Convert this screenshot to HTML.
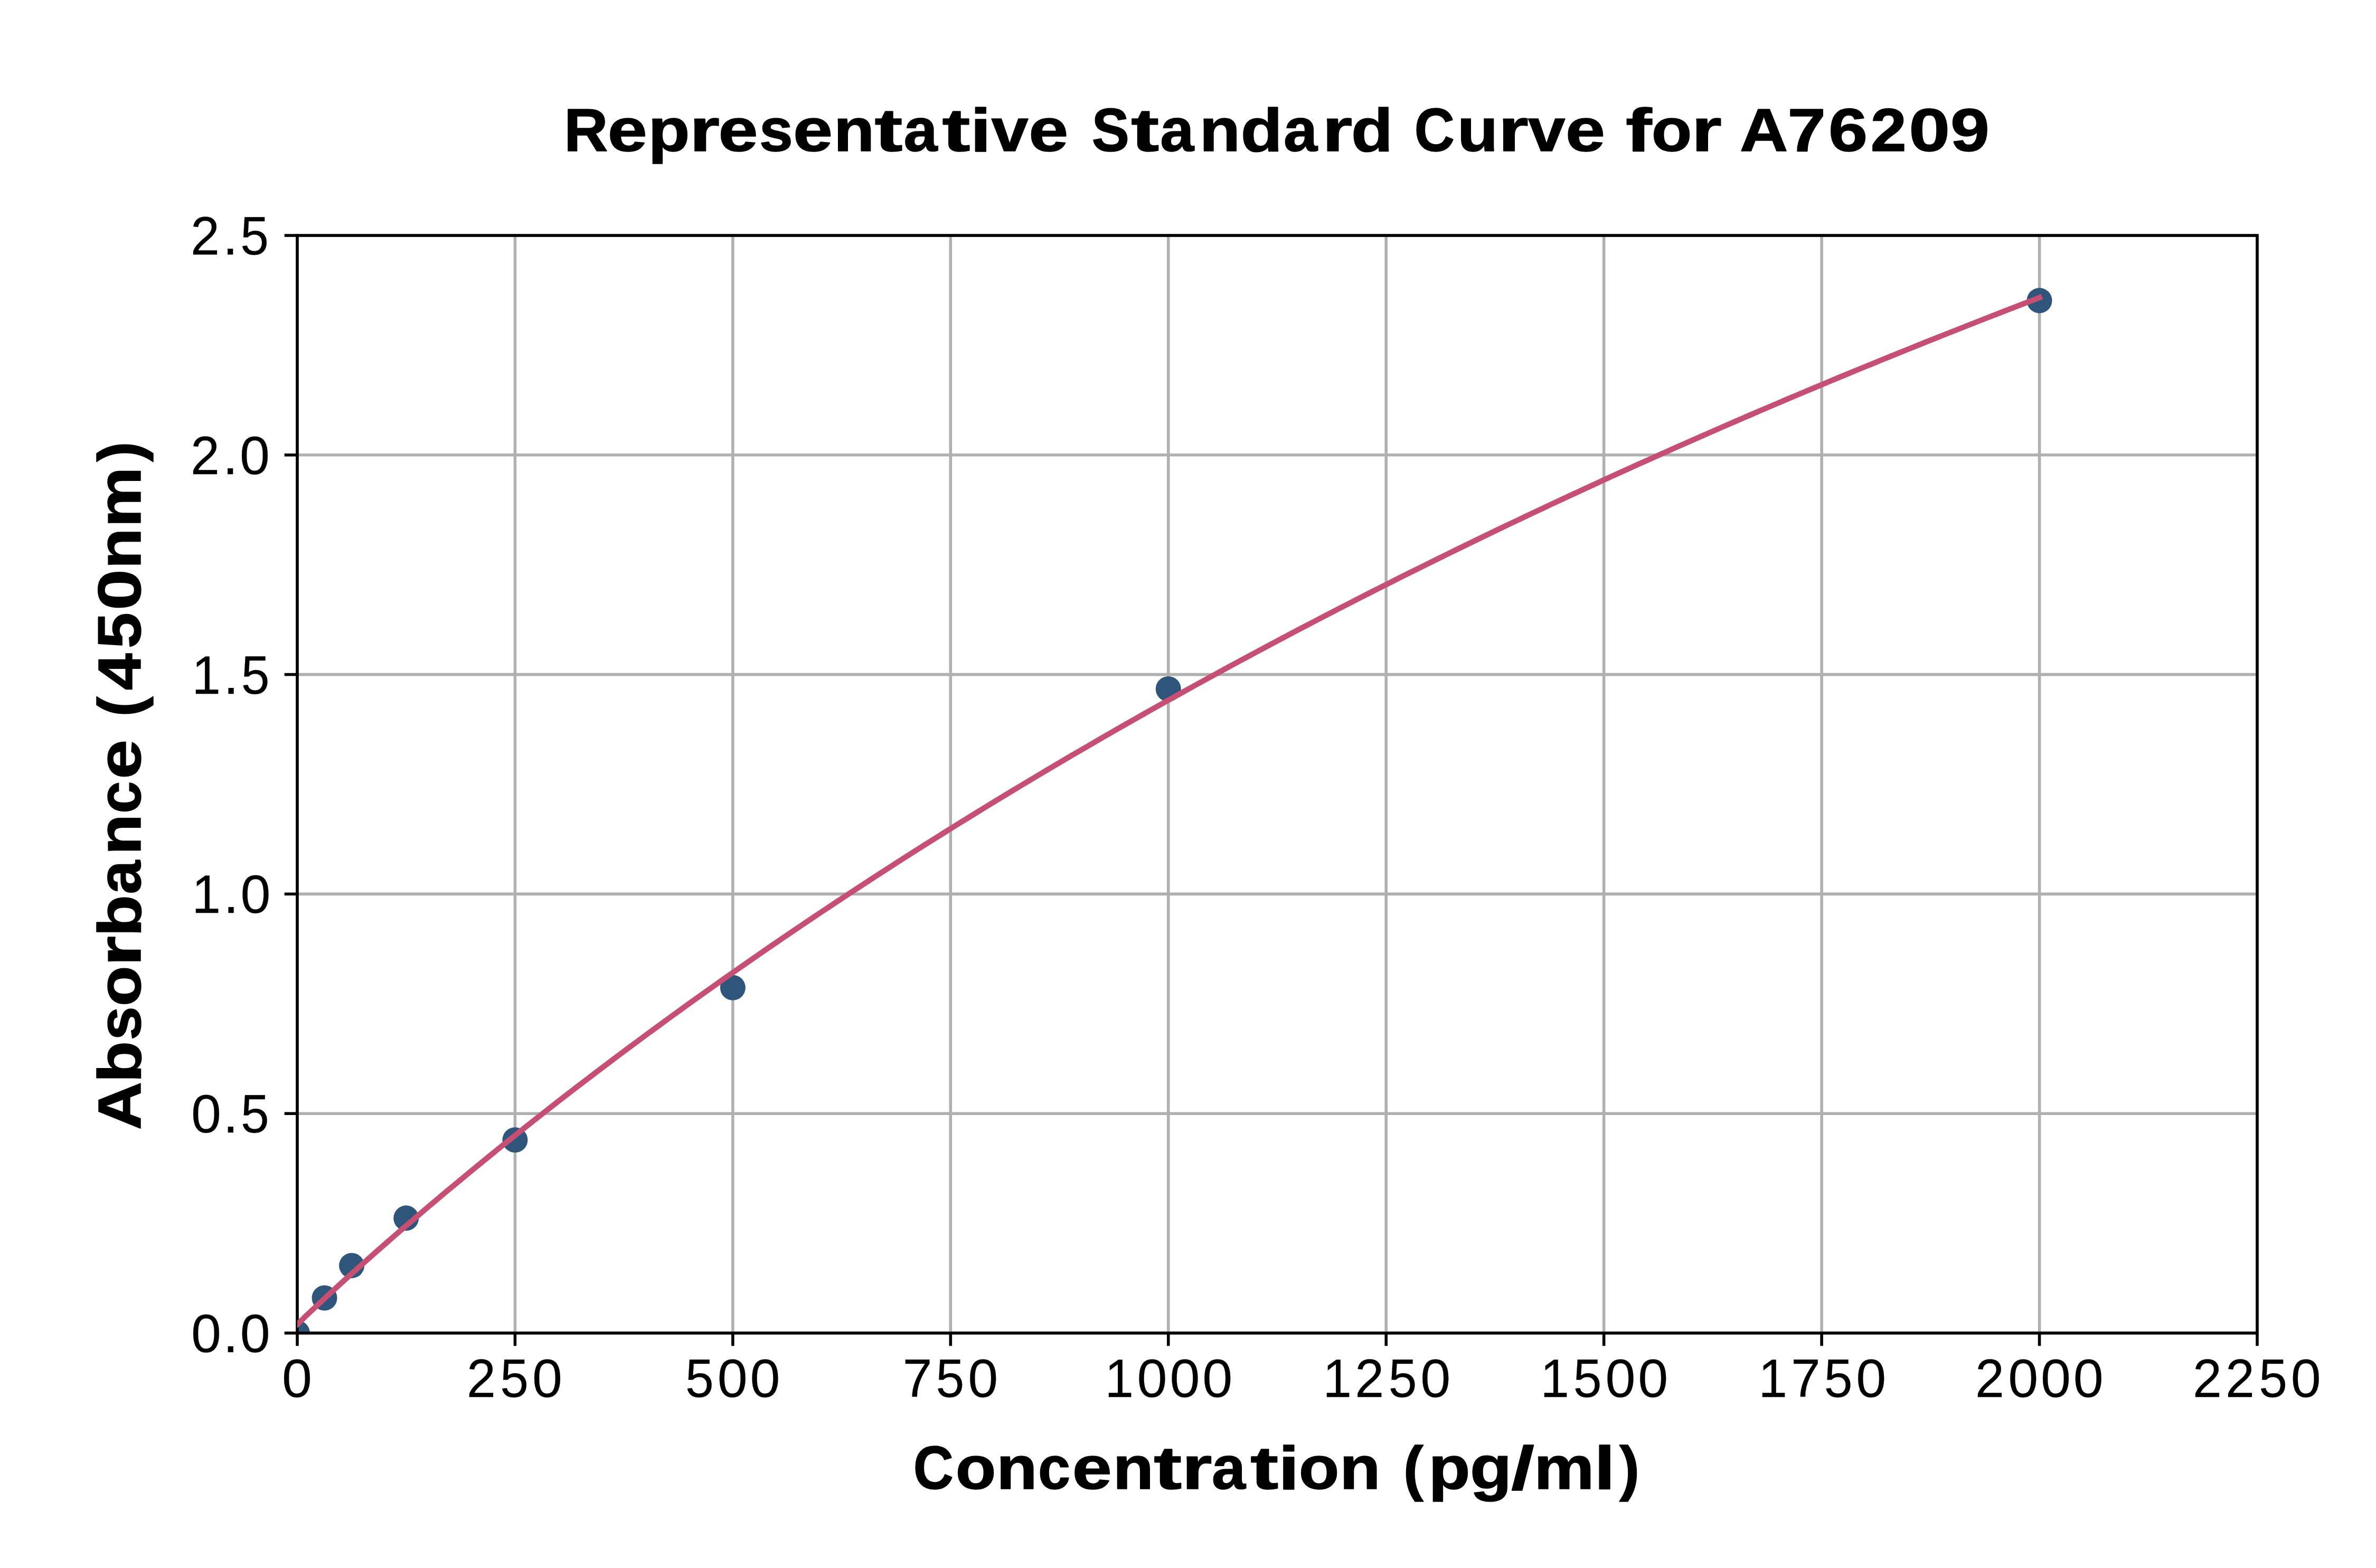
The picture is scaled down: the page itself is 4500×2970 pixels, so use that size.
<!DOCTYPE html>
<html><head><meta charset="utf-8"><title>Representative Standard Curve for A76209</title><style>
html,body{margin:0;padding:0;background:#fff;width:4500px;height:2970px;overflow:hidden}
svg{display:block}
text{font-family:"Liberation Sans",sans-serif;fill:#000;font-kerning:none;white-space:pre}
</style></head><body>
<svg width="4500" height="2970" viewBox="0 0 4500 2970">
<rect x="0" y="0" width="4500" height="2970" fill="#ffffff"/>
<defs><clipPath id="ax"><rect x="563.00" y="446.00" width="3712.00" height="2079.00"/></clipPath></defs>
<line x1="563.00" y1="446.00" x2="563.00" y2="2525.00" stroke="#b0b0b0" stroke-width="5.56"/>
<line x1="975.44" y1="446.00" x2="975.44" y2="2525.00" stroke="#b0b0b0" stroke-width="5.56"/>
<line x1="1387.89" y1="446.00" x2="1387.89" y2="2525.00" stroke="#b0b0b0" stroke-width="5.56"/>
<line x1="1800.33" y1="446.00" x2="1800.33" y2="2525.00" stroke="#b0b0b0" stroke-width="5.56"/>
<line x1="2212.78" y1="446.00" x2="2212.78" y2="2525.00" stroke="#b0b0b0" stroke-width="5.56"/>
<line x1="2625.22" y1="446.00" x2="2625.22" y2="2525.00" stroke="#b0b0b0" stroke-width="5.56"/>
<line x1="3037.67" y1="446.00" x2="3037.67" y2="2525.00" stroke="#b0b0b0" stroke-width="5.56"/>
<line x1="3450.11" y1="446.00" x2="3450.11" y2="2525.00" stroke="#b0b0b0" stroke-width="5.56"/>
<line x1="3862.56" y1="446.00" x2="3862.56" y2="2525.00" stroke="#b0b0b0" stroke-width="5.56"/>
<line x1="4275.00" y1="446.00" x2="4275.00" y2="2525.00" stroke="#b0b0b0" stroke-width="5.56"/>
<line x1="563.00" y1="2525.00" x2="4275.00" y2="2525.00" stroke="#b0b0b0" stroke-width="5.56"/>
<line x1="563.00" y1="2109.20" x2="4275.00" y2="2109.20" stroke="#b0b0b0" stroke-width="5.56"/>
<line x1="563.00" y1="1693.40" x2="4275.00" y2="1693.40" stroke="#b0b0b0" stroke-width="5.56"/>
<line x1="563.00" y1="1277.60" x2="4275.00" y2="1277.60" stroke="#b0b0b0" stroke-width="5.56"/>
<line x1="563.00" y1="861.80" x2="4275.00" y2="861.80" stroke="#b0b0b0" stroke-width="5.56"/>
<line x1="563.00" y1="446.00" x2="4275.00" y2="446.00" stroke="#b0b0b0" stroke-width="5.56"/>
<g clip-path="url(#ax)">
<circle cx="563.00" cy="2525.00" r="24.00" fill="#30557b"/>
<circle cx="614.56" cy="2458.47" r="24.00" fill="#30557b"/>
<circle cx="666.11" cy="2397.18" r="24.00" fill="#30557b"/>
<circle cx="769.22" cy="2307.37" r="24.00" fill="#30557b"/>
<circle cx="975.44" cy="2159.26" r="24.00" fill="#30557b"/>
<circle cx="1387.89" cy="1870.78" r="24.00" fill="#30557b"/>
<circle cx="2212.78" cy="1305.04" r="24.00" fill="#30557b"/>
<circle cx="3862.56" cy="569.33" r="24.00" fill="#30557b"/>
</g>
<rect x="563.00" y="446.00" width="3712.00" height="2079.00" fill="none" stroke="#000" stroke-width="5.56"/>
<path clip-path="url(#ax)" d="M563.0,2508.7 L579.5,2492.6 L596.0,2476.9 L612.5,2461.5 L629.0,2446.2 L645.5,2431.1 L662.0,2416.2 L678.5,2401.3 L695.0,2386.6 L711.5,2372.0 L728.0,2357.5 L744.5,2343.1 L761.0,2328.8 L777.5,2314.6 L794.0,2300.5 L810.5,2286.4 L827.0,2272.5 L843.5,2258.6 L860.0,2244.9 L876.5,2231.2 L893.0,2217.6 L909.5,2204.1 L926.0,2190.6 L942.4,2177.2 L958.9,2163.9 L975.4,2150.7 L991.9,2137.6 L1008.4,2124.5 L1024.9,2111.5 L1041.4,2098.6 L1057.9,2085.7 L1074.4,2072.9 L1090.9,2060.2 L1107.4,2047.6 L1123.9,2035.0 L1140.4,2022.5 L1156.9,2010.0 L1173.4,1997.6 L1189.9,1985.3 L1206.4,1973.1 L1222.9,1960.9 L1239.4,1948.7 L1255.9,1936.7 L1272.4,1924.6 L1288.9,1912.7 L1305.4,1900.8 L1321.9,1889.0 L1338.4,1877.2 L1354.9,1865.5 L1371.4,1853.8 L1387.9,1842.2 L1404.4,1830.7 L1420.9,1819.2 L1437.4,1807.8 L1453.9,1796.4 L1470.4,1785.1 L1486.9,1773.8 L1503.4,1762.6 L1519.9,1751.5 L1536.4,1740.4 L1552.9,1729.3 L1569.4,1718.3 L1585.9,1707.4 L1602.4,1696.5 L1618.9,1685.7 L1635.4,1674.9 L1651.9,1664.1 L1668.4,1653.4 L1684.8,1642.8 L1701.3,1632.2 L1717.8,1621.7 L1734.3,1611.2 L1750.8,1600.7 L1767.3,1590.3 L1783.8,1580.0 L1800.3,1569.7 L1816.8,1559.4 L1833.3,1549.2 L1849.8,1539.0 L1866.3,1528.9 L1882.8,1518.8 L1899.3,1508.8 L1915.8,1498.8 L1932.3,1488.9 L1948.8,1479.0 L1965.3,1469.1 L1981.8,1459.3 L1998.3,1449.5 L2014.8,1439.8 L2031.3,1430.1 L2047.8,1420.5 L2064.3,1410.9 L2080.8,1401.3 L2097.3,1391.8 L2113.8,1382.3 L2130.3,1372.9 L2146.8,1363.5 L2163.3,1354.1 L2179.8,1344.8 L2196.3,1335.5 L2212.8,1326.3 L2229.3,1317.1 L2245.8,1307.9 L2262.3,1298.8 L2278.8,1289.7 L2295.3,1280.7 L2311.8,1271.6 L2328.3,1262.7 L2344.8,1253.7 L2361.3,1244.8 L2377.8,1236.0 L2394.3,1227.2 L2410.8,1218.4 L2427.2,1209.6 L2443.7,1200.9 L2460.2,1192.2 L2476.7,1183.6 L2493.2,1175.0 L2509.7,1166.4 L2526.2,1157.8 L2542.7,1149.3 L2559.2,1140.9 L2575.7,1132.4 L2592.2,1124.0 L2608.7,1115.6 L2625.2,1107.3 L2641.7,1099.0 L2658.2,1090.7 L2674.7,1082.5 L2691.2,1074.3 L2707.7,1066.1 L2724.2,1058.0 L2740.7,1049.9 L2757.2,1041.8 L2773.7,1033.7 L2790.2,1025.7 L2806.7,1017.7 L2823.2,1009.8 L2839.7,1001.8 L2856.2,993.9 L2872.7,986.1 L2889.2,978.3 L2905.7,970.4 L2922.2,962.7 L2938.7,954.9 L2955.2,947.2 L2971.7,939.5 L2988.2,931.9 L3004.7,924.2 L3021.2,916.7 L3037.7,909.1 L3054.2,901.5 L3070.7,894.0 L3087.2,886.5 L3103.7,879.1 L3120.2,871.7 L3136.7,864.3 L3153.2,856.9 L3169.6,849.5 L3186.1,842.2 L3202.6,834.9 L3219.1,827.7 L3235.6,820.4 L3252.1,813.2 L3268.6,806.0 L3285.1,798.9 L3301.6,791.7 L3318.1,784.6 L3334.6,777.5 L3351.1,770.5 L3367.6,763.5 L3384.1,756.4 L3400.6,749.5 L3417.1,742.5 L3433.6,735.6 L3450.1,728.7 L3466.6,721.8 L3483.1,714.9 L3499.6,708.1 L3516.1,701.3 L3532.6,694.5 L3549.1,687.8 L3565.6,681.0 L3582.1,674.3 L3598.6,667.6 L3615.1,661.0 L3631.6,654.3 L3648.1,647.7 L3664.6,641.1 L3681.1,634.5 L3697.6,628.0 L3714.1,621.5 L3730.6,615.0 L3747.1,608.5 L3763.6,602.0 L3780.1,595.6 L3796.6,589.2 L3813.1,582.8 L3829.6,576.4 L3846.1,570.1 L3862.6,563.7" fill="none" stroke="#c65073" stroke-width="10.42" stroke-linecap="square" stroke-linejoin="round"/>
<line x1="563.00" y1="2525.00" x2="563.00" y2="2549.30" stroke="#000" stroke-width="5.56"/>
<line x1="975.44" y1="2525.00" x2="975.44" y2="2549.30" stroke="#000" stroke-width="5.56"/>
<line x1="1387.89" y1="2525.00" x2="1387.89" y2="2549.30" stroke="#000" stroke-width="5.56"/>
<line x1="1800.33" y1="2525.00" x2="1800.33" y2="2549.30" stroke="#000" stroke-width="5.56"/>
<line x1="2212.78" y1="2525.00" x2="2212.78" y2="2549.30" stroke="#000" stroke-width="5.56"/>
<line x1="2625.22" y1="2525.00" x2="2625.22" y2="2549.30" stroke="#000" stroke-width="5.56"/>
<line x1="3037.67" y1="2525.00" x2="3037.67" y2="2549.30" stroke="#000" stroke-width="5.56"/>
<line x1="3450.11" y1="2525.00" x2="3450.11" y2="2549.30" stroke="#000" stroke-width="5.56"/>
<line x1="3862.56" y1="2525.00" x2="3862.56" y2="2549.30" stroke="#000" stroke-width="5.56"/>
<line x1="4275.00" y1="2525.00" x2="4275.00" y2="2549.30" stroke="#000" stroke-width="5.56"/>
<line x1="563.00" y1="2525.00" x2="538.70" y2="2525.00" stroke="#000" stroke-width="5.56"/>
<line x1="563.00" y1="2109.20" x2="538.70" y2="2109.20" stroke="#000" stroke-width="5.56"/>
<line x1="563.00" y1="1693.40" x2="538.70" y2="1693.40" stroke="#000" stroke-width="5.56"/>
<line x1="563.00" y1="1277.60" x2="538.70" y2="1277.60" stroke="#000" stroke-width="5.56"/>
<line x1="563.00" y1="861.80" x2="538.70" y2="861.80" stroke="#000" stroke-width="5.56"/>
<line x1="563.00" y1="446.00" x2="538.70" y2="446.00" stroke="#000" stroke-width="5.56"/>
<text xml:space="preserve" font-size="114.444" font-weight="bold" stroke="#000" stroke-width="1.50" stroke-linejoin="round" transform="translate(1065.800,285.888)" y="0"><tspan x="2.49" textLength="83.20" lengthAdjust="spacingAndGlyphs">R</tspan><tspan x="85.06" textLength="75.10" lengthAdjust="spacingAndGlyphs">e</tspan><tspan x="161.72" textLength="79.05" lengthAdjust="spacingAndGlyphs">p</tspan><tspan x="240.13" textLength="57.01" lengthAdjust="spacingAndGlyphs">r</tspan><tspan x="294.75" textLength="75.10" lengthAdjust="spacingAndGlyphs">e</tspan><tspan x="372.32" textLength="63.87" lengthAdjust="spacingAndGlyphs">s</tspan><tspan x="436.24" textLength="75.10" lengthAdjust="spacingAndGlyphs">e</tspan><tspan x="513.09" textLength="77.27" lengthAdjust="spacingAndGlyphs">n</tspan><tspan x="590.72" textLength="52.98" lengthAdjust="spacingAndGlyphs">t</tspan><tspan x="645.71" textLength="64.11" lengthAdjust="spacingAndGlyphs">a</tspan><tspan x="718.82" textLength="52.98" lengthAdjust="spacingAndGlyphs">t</tspan><tspan x="771.85" textLength="39.33" lengthAdjust="spacingAndGlyphs">i</tspan><tspan x="811.68" textLength="70.17" lengthAdjust="spacingAndGlyphs">v</tspan><tspan x="882.42" textLength="75.10" lengthAdjust="spacingAndGlyphs">e</tspan><tspan x="958.28"> </tspan><tspan x="1001.86" textLength="71.15" lengthAdjust="spacingAndGlyphs">S</tspan><tspan x="1076.51" textLength="52.98" lengthAdjust="spacingAndGlyphs">t</tspan><tspan x="1131.50" textLength="64.11" lengthAdjust="spacingAndGlyphs">a</tspan><tspan x="1206.07" textLength="77.27" lengthAdjust="spacingAndGlyphs">n</tspan><tspan x="1283.86" textLength="79.05" lengthAdjust="spacingAndGlyphs">d</tspan><tspan x="1365.11" textLength="64.11" lengthAdjust="spacingAndGlyphs">a</tspan><tspan x="1438.37" textLength="57.01" lengthAdjust="spacingAndGlyphs">r</tspan><tspan x="1493.17" textLength="79.05" lengthAdjust="spacingAndGlyphs">d</tspan><tspan x="1573.03"> </tspan><tspan x="1612.92" textLength="76.11" lengthAdjust="spacingAndGlyphs">C</tspan><tspan x="1694.09" textLength="77.27" lengthAdjust="spacingAndGlyphs">u</tspan><tspan x="1772.03" textLength="57.01" lengthAdjust="spacingAndGlyphs">r</tspan><tspan x="1828.34" textLength="70.17" lengthAdjust="spacingAndGlyphs">v</tspan><tspan x="1899.08" textLength="75.10" lengthAdjust="spacingAndGlyphs">e</tspan><tspan x="1974.93"> </tspan><tspan x="2013.20" textLength="49.45" lengthAdjust="spacingAndGlyphs">f</tspan><tspan x="2061.83" textLength="76.58" lengthAdjust="spacingAndGlyphs">o</tspan><tspan x="2137.97" textLength="57.01" lengthAdjust="spacingAndGlyphs">r</tspan><tspan x="2193.09"> </tspan><tspan x="2229.16" textLength="91.40" lengthAdjust="spacingAndGlyphs">A</tspan><tspan x="2319.61" textLength="72.34" lengthAdjust="spacingAndGlyphs">7</tspan><tspan x="2397.08" textLength="74.15" lengthAdjust="spacingAndGlyphs">6</tspan><tspan x="2476.94" textLength="68.00" lengthAdjust="spacingAndGlyphs">2</tspan><tspan x="2549.47" textLength="77.97" lengthAdjust="spacingAndGlyphs">0</tspan><tspan x="2628.15" textLength="74.00" lengthAdjust="spacingAndGlyphs">9</tspan></text>
<text xml:space="preserve" font-size="102.083" stroke="#000" stroke-width="0.25" stroke-linejoin="round" transform="translate(359.591,2560.623)" y="0"><tspan x="2.41" textLength="57.00" lengthAdjust="spacingAndGlyphs">0</tspan><tspan x="62.65" textLength="29.23" lengthAdjust="spacingAndGlyphs">.</tspan><tspan x="95.17" textLength="57.00" lengthAdjust="spacingAndGlyphs">0</tspan></text>
<text xml:space="preserve" font-size="102.083" stroke="#000" stroke-width="0.25" stroke-linejoin="round" transform="translate(359.591,2144.623)" y="0"><tspan x="2.41" textLength="57.00" lengthAdjust="spacingAndGlyphs">0</tspan><tspan x="62.65" textLength="29.23" lengthAdjust="spacingAndGlyphs">.</tspan><tspan x="96.39" textLength="53.79" lengthAdjust="spacingAndGlyphs">5</tspan></text>
<text xml:space="preserve" font-size="102.083" stroke="#000" stroke-width="0.25" stroke-linejoin="round" transform="translate(360.319,1728.623)" y="0"><tspan x="3.23" textLength="54.44" lengthAdjust="spacingAndGlyphs">1</tspan><tspan x="62.65" textLength="29.23" lengthAdjust="spacingAndGlyphs">.</tspan><tspan x="95.17" textLength="57.00" lengthAdjust="spacingAndGlyphs">0</tspan></text>
<text xml:space="preserve" font-size="102.083" stroke="#000" stroke-width="0.25" stroke-linejoin="round" transform="translate(360.319,1313.623)" y="0"><tspan x="3.23" textLength="54.44" lengthAdjust="spacingAndGlyphs">1</tspan><tspan x="62.65" textLength="29.23" lengthAdjust="spacingAndGlyphs">.</tspan><tspan x="96.39" textLength="53.79" lengthAdjust="spacingAndGlyphs">5</tspan></text>
<text xml:space="preserve" font-size="102.083" stroke="#000" stroke-width="0.25" stroke-linejoin="round" transform="translate(358.879,897.623)" y="0"><tspan x="2.15" textLength="54.94" lengthAdjust="spacingAndGlyphs">2</tspan><tspan x="62.65" textLength="29.23" lengthAdjust="spacingAndGlyphs">.</tspan><tspan x="95.17" textLength="57.00" lengthAdjust="spacingAndGlyphs">0</tspan></text>
<text xml:space="preserve" font-size="102.083" stroke="#000" stroke-width="0.25" stroke-linejoin="round" transform="translate(358.879,481.623)" y="0"><tspan x="2.15" textLength="54.94" lengthAdjust="spacingAndGlyphs">2</tspan><tspan x="62.65" textLength="29.23" lengthAdjust="spacingAndGlyphs">.</tspan><tspan x="96.39" textLength="53.79" lengthAdjust="spacingAndGlyphs">5</tspan></text>
<text xml:space="preserve" font-size="102.083" stroke="#000" stroke-width="0.25" stroke-linejoin="round" transform="translate(531.591,2645.623)" y="0"><tspan x="2.41" textLength="57.00" lengthAdjust="spacingAndGlyphs">0</tspan></text>
<text xml:space="preserve" font-size="102.083" stroke="#000" stroke-width="0.25" stroke-linejoin="round" transform="translate(881.879,2645.623)" y="0"><tspan x="2.15" textLength="54.94" lengthAdjust="spacingAndGlyphs">2</tspan><tspan x="65.48" textLength="53.79" lengthAdjust="spacingAndGlyphs">5</tspan><tspan x="126.12" textLength="57.00" lengthAdjust="spacingAndGlyphs">0</tspan></text>
<text xml:space="preserve" font-size="102.083" stroke="#000" stroke-width="0.25" stroke-linejoin="round" transform="translate(1294.499,2645.623)" y="0"><tspan x="3.63" textLength="53.79" lengthAdjust="spacingAndGlyphs">5</tspan><tspan x="64.26" textLength="57.00" lengthAdjust="spacingAndGlyphs">0</tspan><tspan x="126.12" textLength="57.00" lengthAdjust="spacingAndGlyphs">0</tspan></text>
<text xml:space="preserve" font-size="102.083" stroke="#000" stroke-width="0.25" stroke-linejoin="round" transform="translate(1707.025,2645.623)" y="0"><tspan x="2.84" textLength="55.75" lengthAdjust="spacingAndGlyphs">7</tspan><tspan x="65.48" textLength="53.79" lengthAdjust="spacingAndGlyphs">5</tspan><tspan x="126.12" textLength="57.00" lengthAdjust="spacingAndGlyphs">0</tspan></text>
<text xml:space="preserve" font-size="102.083" stroke="#000" stroke-width="0.25" stroke-linejoin="round" transform="translate(2089.319,2645.623)" y="0"><tspan x="3.23" textLength="54.44" lengthAdjust="spacingAndGlyphs">1</tspan><tspan x="64.26" textLength="57.00" lengthAdjust="spacingAndGlyphs">0</tspan><tspan x="126.12" textLength="57.00" lengthAdjust="spacingAndGlyphs">0</tspan><tspan x="187.97" textLength="57.00" lengthAdjust="spacingAndGlyphs">0</tspan></text>
<text xml:space="preserve" font-size="102.083" stroke="#000" stroke-width="0.25" stroke-linejoin="round" transform="translate(2502.319,2645.623)" y="0"><tspan x="3.23" textLength="54.44" lengthAdjust="spacingAndGlyphs">1</tspan><tspan x="64.01" textLength="54.94" lengthAdjust="spacingAndGlyphs">2</tspan><tspan x="127.34" textLength="53.79" lengthAdjust="spacingAndGlyphs">5</tspan><tspan x="187.97" textLength="57.00" lengthAdjust="spacingAndGlyphs">0</tspan></text>
<text xml:space="preserve" font-size="102.083" stroke="#000" stroke-width="0.25" stroke-linejoin="round" transform="translate(2914.319,2645.623)" y="0"><tspan x="3.23" textLength="54.44" lengthAdjust="spacingAndGlyphs">1</tspan><tspan x="65.48" textLength="53.79" lengthAdjust="spacingAndGlyphs">5</tspan><tspan x="126.12" textLength="57.00" lengthAdjust="spacingAndGlyphs">0</tspan><tspan x="187.97" textLength="57.00" lengthAdjust="spacingAndGlyphs">0</tspan></text>
<text xml:space="preserve" font-size="102.083" stroke="#000" stroke-width="0.25" stroke-linejoin="round" transform="translate(3327.319,2645.623)" y="0"><tspan x="3.23" textLength="54.44" lengthAdjust="spacingAndGlyphs">1</tspan><tspan x="64.69" textLength="55.75" lengthAdjust="spacingAndGlyphs">7</tspan><tspan x="127.34" textLength="53.79" lengthAdjust="spacingAndGlyphs">5</tspan><tspan x="187.97" textLength="57.00" lengthAdjust="spacingAndGlyphs">0</tspan></text>
<text xml:space="preserve" font-size="102.083" stroke="#000" stroke-width="0.25" stroke-linejoin="round" transform="translate(3738.879,2645.623)" y="0"><tspan x="2.15" textLength="54.94" lengthAdjust="spacingAndGlyphs">2</tspan><tspan x="64.26" textLength="57.00" lengthAdjust="spacingAndGlyphs">0</tspan><tspan x="126.12" textLength="57.00" lengthAdjust="spacingAndGlyphs">0</tspan><tspan x="187.97" textLength="57.00" lengthAdjust="spacingAndGlyphs">0</tspan></text>
<text xml:space="preserve" font-size="102.083" stroke="#000" stroke-width="0.25" stroke-linejoin="round" transform="translate(4150.879,2645.623)" y="0"><tspan x="2.15" textLength="54.94" lengthAdjust="spacingAndGlyphs">2</tspan><tspan x="64.01" textLength="54.94" lengthAdjust="spacingAndGlyphs">2</tspan><tspan x="127.34" textLength="53.79" lengthAdjust="spacingAndGlyphs">5</tspan><tspan x="187.97" textLength="57.00" lengthAdjust="spacingAndGlyphs">0</tspan></text>
<text xml:space="preserve" font-size="114.444" font-weight="bold" stroke="#000" stroke-width="1.50" stroke-linejoin="round" transform="translate(1728.466,2820.020)" y="0"><tspan x="1.21" textLength="76.11" lengthAdjust="spacingAndGlyphs">C</tspan><tspan x="81.42" textLength="76.58" lengthAdjust="spacingAndGlyphs">o</tspan><tspan x="158.87" textLength="77.27" lengthAdjust="spacingAndGlyphs">n</tspan><tspan x="237.46" textLength="61.18" lengthAdjust="spacingAndGlyphs">c</tspan><tspan x="302.34" textLength="75.10" lengthAdjust="spacingAndGlyphs">e</tspan><tspan x="379.19" textLength="77.27" lengthAdjust="spacingAndGlyphs">n</tspan><tspan x="456.83" textLength="52.98" lengthAdjust="spacingAndGlyphs">t</tspan><tspan x="510.09" textLength="57.01" lengthAdjust="spacingAndGlyphs">r</tspan><tspan x="566.61" textLength="64.11" lengthAdjust="spacingAndGlyphs">a</tspan><tspan x="639.71" textLength="52.98" lengthAdjust="spacingAndGlyphs">t</tspan><tspan x="692.75" textLength="39.33" lengthAdjust="spacingAndGlyphs">i</tspan><tspan x="731.27" textLength="76.58" lengthAdjust="spacingAndGlyphs">o</tspan><tspan x="808.72" textLength="77.27" lengthAdjust="spacingAndGlyphs">n</tspan><tspan x="886.83"> </tspan><tspan x="929.35" textLength="38.15" lengthAdjust="spacingAndGlyphs">(</tspan><tspan x="977.09" textLength="79.05" lengthAdjust="spacingAndGlyphs">p</tspan><tspan x="1055.50" textLength="79.20" lengthAdjust="spacingAndGlyphs">g</tspan><tspan x="1133.83" textLength="43.65" lengthAdjust="spacingAndGlyphs">/</tspan><tspan x="1176.70" textLength="114.19" lengthAdjust="spacingAndGlyphs">m</tspan><tspan x="1291.17" textLength="39.33" lengthAdjust="spacingAndGlyphs">l</tspan><tspan x="1338.59" textLength="38.15" lengthAdjust="spacingAndGlyphs">)</tspan></text>
<text xml:space="preserve" font-size="114.444" font-weight="bold" stroke="#000" stroke-width="1.50" stroke-linejoin="round" transform="translate(266.352,2137.543) rotate(-90)" y="0"><tspan x="-2.61" textLength="91.40" lengthAdjust="spacingAndGlyphs">A</tspan><tspan x="86.79" textLength="79.05" lengthAdjust="spacingAndGlyphs">b</tspan><tspan x="167.24" textLength="63.87" lengthAdjust="spacingAndGlyphs">s</tspan><tspan x="231.54" textLength="76.58" lengthAdjust="spacingAndGlyphs">o</tspan><tspan x="307.67" textLength="57.01" lengthAdjust="spacingAndGlyphs">r</tspan><tspan x="363.59" textLength="79.05" lengthAdjust="spacingAndGlyphs">b</tspan><tspan x="443.73" textLength="64.11" lengthAdjust="spacingAndGlyphs">a</tspan><tspan x="518.30" textLength="77.27" lengthAdjust="spacingAndGlyphs">n</tspan><tspan x="596.89" textLength="61.18" lengthAdjust="spacingAndGlyphs">c</tspan><tspan x="661.77" textLength="75.10" lengthAdjust="spacingAndGlyphs">e</tspan><tspan x="737.63"> </tspan><tspan x="780.16" textLength="38.15" lengthAdjust="spacingAndGlyphs">(</tspan><tspan x="830.19" textLength="69.79" lengthAdjust="spacingAndGlyphs">4</tspan><tspan x="909.21" textLength="68.16" lengthAdjust="spacingAndGlyphs">5</tspan><tspan x="981.49" textLength="77.97" lengthAdjust="spacingAndGlyphs">0</tspan><tspan x="1060.02" textLength="77.27" lengthAdjust="spacingAndGlyphs">n</tspan><tspan x="1138.89" textLength="114.19" lengthAdjust="spacingAndGlyphs">m</tspan><tspan x="1262.69" textLength="38.15" lengthAdjust="spacingAndGlyphs">)</tspan></text>
</svg>
</body></html>
